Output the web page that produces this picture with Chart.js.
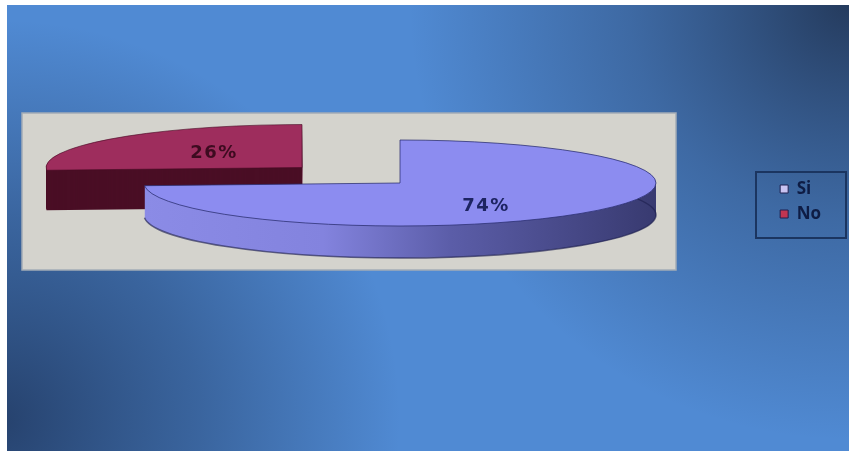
<!DOCTYPE html>
<html>
<head>
<meta charset="utf-8">
<script src="https://cdn.jsdelivr.net/npm/chart.js@4/dist/chart.umd.min.js"></script>
<style>
  html, body { margin: 0; padding: 0; background: #fff; }
  #wrap { width: 849px; height: 451px; position: relative; }
</style>
</head>
<body>
<div id="wrap"><canvas id="chart" width="849" height="451"></canvas></div>
<script>
// data
const categories = ["Si", "No"];
const values = [74, 26];
const pctLabels = ["74%", "26%"];

// look of the fake 3d pie
const topColors = ["#8c8cf0", "#9e2d5d"];
const sideColors = ["#6a6bc4", "#4a0e25"];
const legendColors = ["#c9c3f2", "#c23552"];
const labelColors = ["#1d2462", "#3d0b20"];
const explode = [0, 0.525];   // fraction of radius
const depth = [32, 40];
const pie3d = { x: 400, y: 183, rx: 256, ry: 43 };

function drawBackground(chart) {
    const ctx = chart.ctx;
    const w = chart.width, h = chart.height;
    ctx.save();
    ctx.fillStyle = "#ffffff";
    ctx.fillRect(0, 0, w, h);

    const x0 = 7, y0 = 5;
    ctx.fillStyle = "#508ad3";
    ctx.fillRect(x0, y0, w - x0, h - y0);

    // dark top right corner
    let g = ctx.createRadialGradient(849, 0, 0, 849, 0, 440);
    g.addColorStop(0, "rgba(34,54,86,0.95)");
    g.addColorStop(0.5, "rgba(40,66,106,0.45)");
    g.addColorStop(1, "rgba(40,66,106,0)");
    ctx.fillStyle = g;
    ctx.fillRect(x0, y0, w - x0, h - y0);

    // dark bottom left
    g = ctx.createRadialGradient(0, 420, 0, 0, 420, 400);
    g.addColorStop(0, "rgba(36,62,104,0.95)");
    g.addColorStop(0.5, "rgba(40,70,115,0.55)");
    g.addColorStop(1, "rgba(40,70,115,0)");
    ctx.fillStyle = g;
    ctx.fillRect(x0, y0, w - x0, h - y0);

    // plot area
    ctx.fillStyle = "#d4d3cd";
    ctx.fillRect(22, 113, 654, 157);
    ctx.strokeStyle = "#a3acb6";
    ctx.lineWidth = 1.5;
    ctx.strokeRect(22, 113, 654, 157);
    ctx.restore();
}

// builds the path of one slice, squashed into the 3d ellipse
function slicePath(chart, ctx, arc, i, dy, arcOnly) {
    const r = chart.getDatasetMeta(0).data[0].outerRadius;
    const mid = (arc.startAngle + arc.endAngle) / 2;
    const ex = Math.cos(mid) * explode[i] * r;
    const ey = Math.sin(mid) * explode[i] * r;
    ctx.save();
    ctx.translate(pie3d.x, pie3d.y + dy);
    ctx.scale(pie3d.rx / r, pie3d.ry / r);
    ctx.translate(-arc.x + ex, -arc.y + ey);
    ctx.beginPath();
    if (arcOnly) {
        ctx.arc(arc.x, arc.y, arc.outerRadius, arc.startAngle, arc.endAngle);
    } else {
        ctx.moveTo(arc.x, arc.y);
        ctx.arc(arc.x, arc.y, arc.outerRadius, arc.startAngle, arc.endAngle);
        ctx.closePath();
    }
    ctx.restore();
}

const pie3dPlugin = {
    id: "pie3d",
    beforeDraw(chart) {
        drawBackground(chart);
    },
    beforeDatasetsDraw(chart) {
        const ctx = chart.ctx;
        const meta = chart.getDatasetMeta(0);
        const order = [1, 0];   // back slice first
        ctx.save();
        for (const i of order) {
            const arc = meta.data[i];
            let side = sideColors[i];
            if (i === 0) {
                side = ctx.createLinearGradient(pie3d.x - pie3d.rx, 0, pie3d.x + pie3d.rx, 0);
                side.addColorStop(0, "#8b8be6");
                side.addColorStop(0.35, "#8383de");
                side.addColorStop(0.6, "#5b5da8");
                side.addColorStop(1, "#383a70");
            }
            for (let d = depth[i]; d >= 1; d--) {
                slicePath(chart, ctx, arc, i, d, false);
                ctx.fillStyle = side;
                ctx.fill();
            }
            if (i === 0) {
                slicePath(chart, ctx, arc, i, depth[i], true);
                ctx.strokeStyle = "rgba(30,32,80,0.65)";
                ctx.lineWidth = 1.5;
                ctx.stroke();
            }

            slicePath(chart, ctx, arc, i, 0, false);
            ctx.fillStyle = topColors[i];
            ctx.fill();
            ctx.strokeStyle = i === 0 ? "rgba(40,44,110,0.75)" : "rgba(70,10,35,0.6)";
            ctx.lineWidth = 1;
            ctx.stroke();
        }

        // percentage labels
        ctx.font = "bold 18px 'DejaVu Sans'";
        ctx.letterSpacing = "1.5px";
        ctx.textAlign = "center";
        ctx.textBaseline = "middle";
        const shiftY = [10, -1];
        meta.data.forEach(function (arc, i) {
            const mid = (arc.startAngle + arc.endAngle) / 2;
            const f = explode[i] + 0.466;
            const x = pie3d.x + Math.cos(mid) * f * pie3d.rx;
            const y = pie3d.y + Math.sin(mid) * f * pie3d.ry + shiftY[i];
            ctx.fillStyle = labelColors[i];
            ctx.fillText(pctLabels[i], x - 1, y);
        });
        ctx.restore();
        return false;
    },
    afterDraw(chart) {
        // box round the legend
        const lg = chart.legend;
        if (!lg || !lg.legendHitBoxes.length) return;
        const boxes = lg.legendHitBoxes;
        const left = 756;
        const top = 172;
        const bottom = 238;
        const ctx = chart.ctx;
        ctx.save();
        ctx.strokeStyle = "#1b3560";
        ctx.lineWidth = 2;
        ctx.strokeRect(left, top, 846 - left, bottom - top);
        ctx.restore();
    }
};

const ctx = document.getElementById("chart").getContext("2d");
new Chart(ctx, {
    type: "pie",
    data: {
        labels: categories,
        datasets: [{
            data: values,
            backgroundColor: legendColors,
            borderColor: "#1e2150",
            borderWidth: 1
        }]
    },
    options: {
        responsive: false,
        animation: false,
        layout: { padding: { right: 18, bottom: 48 } },
        plugins: {
            tooltip: { enabled: false },
            legend: {
                position: "right",
                labels: {
                    boxWidth: 8,
                    boxHeight: 8,
                    padding: 8,
                    color: "#0e1c44",
                    font: { family: "Open Sans", weight: "bold", size: 17 }
                }
            }
        }
    },
    plugins: [pie3dPlugin]
});
</script>
</body>
</html>
